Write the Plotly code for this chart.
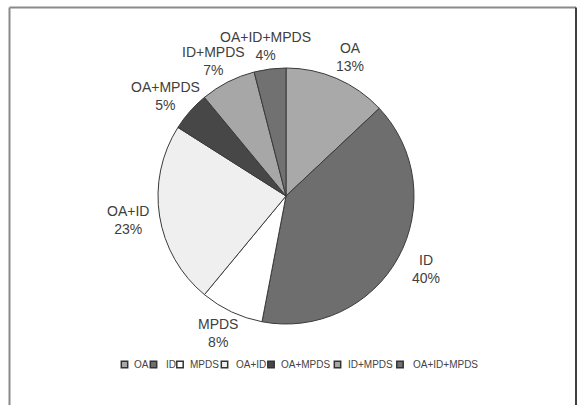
import math
import plotly.graph_objects as go

# Share of each combination (percent)
categories = ["OA", "ID", "MPDS", "OA+ID", "OA+MPDS", "ID+MPDS", "OA+ID+MPDS"]
shares = [13, 40, 8, 23, 5, 7, 4]
slice_colors = ["#a9a9a9", "#6e6e6e", "#ffffff", "#efefef", "#474747", "#a7a7a7", "#717171"]

W, H = 578, 405
FONT = "Liberation Sans, Arial, sans-serif"


def px(x):
    return x / W


def py(y):
    return 1 - y / H


# Pie placement in pixels
cx, cy, R = 286, 196, 128

fig = go.Figure()
fig.add_trace(go.Pie(
    labels=categories,
    values=shares,
    sort=False,
    direction="clockwise",
    rotation=0,
    marker=dict(colors=slice_colors, line=dict(color="#3a3a3a", width=1)),
    textinfo="none",
    hoverinfo="label+percent",
    showlegend=False,
    domain=dict(x=[px(cx - R), px(cx + R)], y=[py(cy + R), py(cy - R)]),
))

shapes = []
annotations = []

# Slice labels, placed outside each slice along its mid-angle
label_rx, label_ry = 160, 151
total = sum(shares)
acc = 0
for name, v in zip(categories, shares):
    mid = (acc + v / 2) / total * 2 * math.pi
    acc += v
    lx = cx + label_rx * math.sin(mid)
    ly = cy - label_ry * math.cos(mid)
    annotations.append(dict(
        x=px(lx), y=py(ly), xref="paper", yref="paper",
        text=f"{name}<br>{v}%", showarrow=False,
        xanchor="center", yanchor="middle", align="center",
        font=dict(family=FONT, size=14, color="#404040"),
    ))

# Chart frame: open at the bottom, darker edge on the right
shapes.append(dict(type="line", xref="paper", yref="paper",
                   x0=px(9.5), y0=py(7.5), x1=px(9.5), y1=0,
                   line=dict(color="#8a8a8a", width=2)))
shapes.append(dict(type="line", xref="paper", yref="paper",
                   x0=px(9.5), y0=py(7.5), x1=px(576), y1=py(7.5),
                   line=dict(color="#8a8a8a", width=2)))
shapes.append(dict(type="line", xref="paper", yref="paper",
                   x0=px(576), y0=py(7.5), x1=px(576), y1=0,
                   line=dict(color="#404040", width=2)))

# Legend row: swatch x-positions and text x-positions (pixels)
legend_swatch_x = [124.5, 153.5, 180, 224.5, 271, 337.5, 400]
legend_text_x = [133, 165, 189, 235, 280, 347, 412]
legend_y = 364.5
sw = 3.2
for name, col, sx, tx in zip(categories, slice_colors, legend_swatch_x, legend_text_x):
    shapes.append(dict(type="rect", xref="paper", yref="paper",
                       x0=px(sx - sw), x1=px(sx + sw),
                       y0=py(legend_y + sw), y1=py(legend_y - sw),
                       fillcolor=col, line=dict(color="#333333", width=1.5)))
    annotations.append(dict(x=px(tx), y=py(legend_y), xref="paper", yref="paper",
                            text=name, showarrow=False, xanchor="left", yanchor="middle",
                            xshift=-1,
                            font=dict(family=FONT, size=10, color="#444444")))

fig.update_layout(
    width=W, height=H,
    margin=dict(l=0, r=0, t=0, b=0),
    paper_bgcolor="white",
    plot_bgcolor="white",
    shapes=shapes,
    annotations=annotations,
)

fig.write_html("out.html")
